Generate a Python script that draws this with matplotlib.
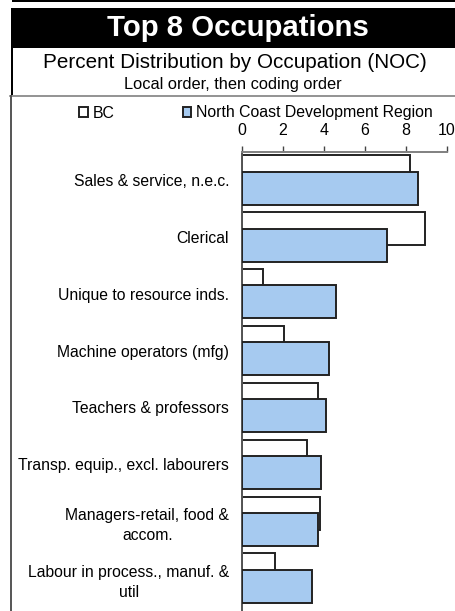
import matplotlib.pyplot as plt
from matplotlib.patches import Rectangle
from matplotlib.lines import Line2D

plt.rcParams["font.family"] = ["Liberation Sans", "DejaVu Sans"]

occupations = [
    "Sales & service, n.e.c.",
    "Clerical",
    "Unique to resource inds.",
    "Machine operators (mfg)",
    "Teachers & professors",
    "Transp. equip., excl. labourers",
    "Managers-retail, food &\naccom.",
    "Labour in process., manuf. &\nutil",
]
bc = [8.2, 8.95, 1.05, 2.05, 3.7, 3.2, 3.8, 1.6]
north_coast = [8.6, 7.1, 4.6, 4.25, 4.1, 3.85, 3.7, 3.4]
x_ticks = [0, 2, 4, 6, 8, 10]

W, H = 455, 611
fig = plt.figure(figsize=(W / 100, H / 100), dpi=100)


def fx(px):
    return px / W


def fy(py):
    return 1 - py / H


# frame / header decorations
fig.add_artist(Rectangle((fx(12), fy(1.5)), fx(443), 1.5 / H, transform=fig.transFigure,
                         facecolor="black", edgecolor="none"))
fig.add_artist(Rectangle((fx(11), fy(47.5)), fx(444), 39.5 / H, transform=fig.transFigure,
                         facecolor="black", edgecolor="none"))
fig.add_artist(Rectangle((fx(11), fy(95)), 2 / W, 47.5 / H, transform=fig.transFigure,
                         facecolor="black", edgecolor="none"))
fig.add_artist(Line2D([fx(10), 1], [fy(95.5), fy(95.5)], transform=fig.transFigure,
                      color="#808080", linewidth=1.2))
fig.add_artist(Line2D([fx(10.8), fx(10.8)], [fy(95.5), 0], transform=fig.transFigure,
                      color="#555555", linewidth=1.4))

fig.text(fx(238), fy(28), "Top 8 Occupations", color="white", fontsize=21.2,
         fontweight="bold", ha="center", va="center")
fig.text(fx(235), fy(62), "Percent Distribution by Occupation (NOC)", fontsize=14.9,
         ha="center", va="center")
fig.text(fx(233), fy(84), "Local order, then coding order", fontsize=11.8,
         ha="center", va="center")

ax = fig.add_axes([fx(241.7), 0, fx(447) - fx(241.7), fy(152)])
pos = list(range(len(occupations)))
h = 0.58
off = 0.145
ax.barh([p - off for p in pos], bc, height=h, color="white", edgecolor="#222222",
        linewidth=1.4, label="BC", zorder=2)
ax.barh([p + off for p in pos], north_coast, height=h, color="#A6CAF0", edgecolor="#222222",
        linewidth=1.4, label="North Coast Development Region", zorder=3)

ax.set_xlim(0, 10)
ax.set_ylim(-0.49 + 459 / 56.9, -0.49)
ax.set_yticks(pos)
ax.set_yticklabels(occupations, fontsize=11.3, multialignment="center", linespacing=1.45)
ax.tick_params(axis="y", length=0, pad=9)
ax.xaxis.tick_top()
ax.set_xticks(x_ticks)
ax.set_xticklabels([str(t) for t in x_ticks], fontsize=11.5)
ax.tick_params(axis="x", length=4, width=1, color="#444444", pad=6)
for s in ["right", "bottom"]:
    ax.spines[s].set_visible(False)
ax.spines["top"].set_color("#808080")
ax.spines["top"].set_linewidth(1.4)
ax.spines["left"].set_color("#555555")
ax.spines["left"].set_linewidth(1.4)

handles, labels = ax.get_legend_handles_labels()
fig.legend(handles, labels, loc="center", bbox_to_anchor=(fx(256), fy(113)), ncol=2,
           frameon=False, fontsize=11.4, handlelength=0.55, handleheight=0.55,
           handletextpad=0.3, columnspacing=4.3, borderpad=0)

fig.savefig("out.png", dpi=100)
